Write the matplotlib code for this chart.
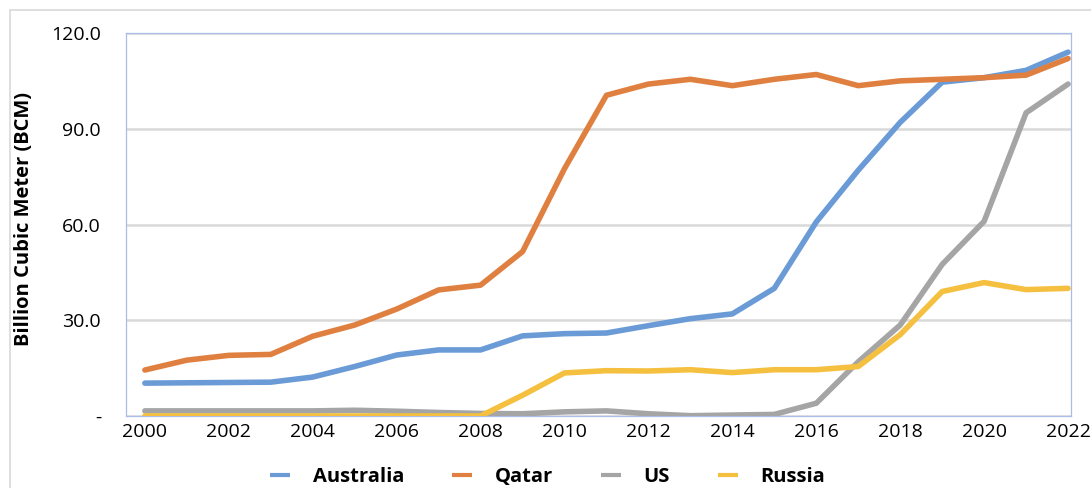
import matplotlib
matplotlib.use("Agg")
import matplotlib.pyplot as plt
from matplotlib.patches import Rectangle

plt.rcParams["font.family"] = ["Open Sans", "DejaVu Sans"]

YEARS = list(range(2000, 2023))
AUSTRALIA = [10.3, 10.4, 10.5, 10.6, 12.2, 15.5, 19.1, 20.7, 20.7, 25.1, 25.8, 26.0,
             28.3, 30.5, 32.0, 40.0, 60.8, 77.0, 92.0, 104.6, 106.0, 108.3, 114.0]
QATAR = [14.4, 17.5, 19.0, 19.3, 25.0, 28.5, 33.5, 39.5, 41.0, 51.5, 77.5, 100.5,
         104.0, 105.5, 103.5, 105.5, 107.0, 103.5, 105.0, 105.5, 106.0, 106.8, 112.0]
US = [1.6, 1.6, 1.6, 1.6, 1.6, 1.8, 1.5, 1.1, 0.8, 0.7, 1.3, 1.6,
      0.7, 0.1, 0.3, 0.5, 4.0, 17.0, 28.5, 47.5, 61.0, 95.0, 104.0]
RUSSIA = [0.0, 0.0, 0.0, 0.0, 0.0, 0.0, 0.0, 0.0, 0.0, 6.5, 13.5, 14.2,
          14.1, 14.5, 13.6, 14.5, 14.5, 15.5, 25.5, 39.0, 41.8, 39.6, 40.0]
SERIES = ["Australia", "Qatar", "US", "Russia"]
COLORS = ["#6a9bd6", "#e08040", "#a5a5a5", "#f5c040"]
YTICKS = [0, 30, 60, 90, 120]
YTICKLABELS = ["-", "30.0", "60.0", "90.0", "120.0"]

fig = plt.figure(figsize=(10.91, 4.88), dpi=100)
fig.patches.append(Rectangle((10 / 1091, -0.01), 1.02, 0.99, transform=fig.transFigure,
                             fill=False, edgecolor="#d9d9d9", linewidth=1.2))
ax = fig.add_axes([126 / 1091, 1 - 416 / 488, 945 / 1091, 383 / 488])

for name, vals, c in zip(SERIES, [AUSTRALIA, QATAR, US, RUSSIA], COLORS):
    ax.plot(YEARS, vals, color=c, lw=4.0, label=name, solid_capstyle="round", zorder=3)

ax.set_xlim(1999.55, 2022.07)
ax.set_ylim(0, 120)
ax.set_xticks(YEARS[::2])
ax.set_yticks(YTICKS)
ax.set_yticklabels(YTICKLABELS)
ax.tick_params(length=0, labelsize=14, colors="black")
ax.tick_params(axis="x", pad=5)
ax.tick_params(axis="y", pad=18)
ax.grid(axis="y", color="#d9d9d9", lw=1.8, zorder=0)
for s in ax.spines.values():
    s.set_color("#a9bde8")
    s.set_linewidth(0.9)
ax.set_ylabel("Billion Cubic Meter (BCM)", fontsize=14.5, fontweight="bold")
ax.yaxis.label.set_va("center")
ax.yaxis.set_label_coords(-0.108, 0.514)

leg = fig.legend(loc="center", bbox_to_anchor=(0.502, 0.022), ncol=4, frameon=False,
                 prop={"size": 14.5, "weight": "bold"}, handlelength=1.0, handletextpad=1.1,
                 columnspacing=2.4)
for h in leg.legend_handles:
    h.set_linewidth(3.0)
    h.set_solid_capstyle("butt")

fig.savefig("out.png", dpi=100)
